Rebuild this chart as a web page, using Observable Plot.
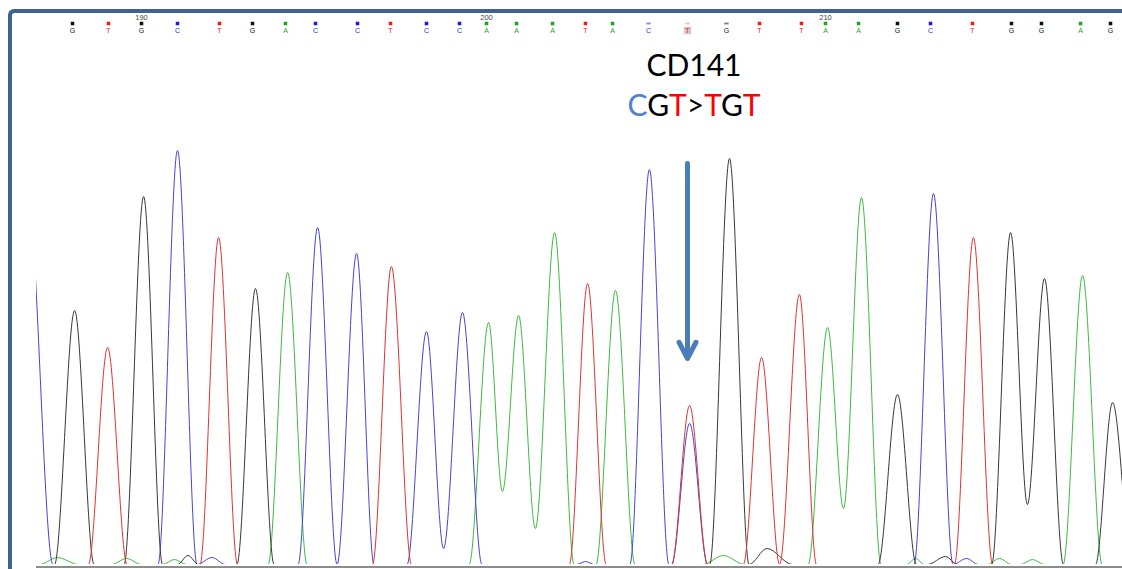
<!DOCTYPE html>
<html><head><meta charset="utf-8">
<script src="https://cdn.jsdelivr.net/npm/d3@7"></script>
<script src="https://cdn.jsdelivr.net/npm/@observablehq/plot@0.6"></script>
<style>
html,body{margin:0;padding:0;background:#fff;}
#wrap{position:relative;width:1122px;height:569px;overflow:hidden;background:#fff;}
#chart svg{display:block;}
#frame{position:absolute;left:8px;top:9px;width:1300px;height:700px;border-left:4px solid #3c6391;border-top:4px solid #3c6391;border-top-left-radius:6px;pointer-events:none;}
</style></head>
<body><div id="wrap"><div id="chart"></div><div id="frame"></div></div>
<script>
// ---- base calls (sequence shown at the top) ----
const bases = "GTGCTGACCTCCAAATACTGTTAAGCTGGAG".split("");
const basePositions = d3.range(188, 219);
const callScans = [2012,2024,2035,2047,2061,2072,2083,2093,2107,2118,2130,2141,2150,2160,2172,2183,2192,2204,2217,2230,2241,2255,2263,2274,2287,2298,2312,2325,2335,2348,2358];
const callQuality = [40,40,40,40,40,40,40,40,40,40,40,40,40,40,40,40,40,12,4,12,40,40,40,40,40,40,40,40,40,40,40];
const positionTicks = [190, 200, 210];
const mutatedPosition = 206;
const codonLabel = "CD141";
const codonChange = [["C","#4f81cf"],["G","#000"],["T","#ff0000"],[">","#000"],["T","#ff0000"],["G","#000"],["T","#ff0000"]];
const arrowSignal = [2005, 1030];

// ---- trace points [scan, signal] per dye channel ----
const traceA = [[1990,0],[2001,0],[2007,35],[2014,0],[2025,0],[2030,30],[2035,0],[2042,0],[2046,25],[2050,0],
  [2077.2,0],[2083.7,1460],[2090.2,0],
  [2144.2,0],[2150.7,1210],[2155.3,365],[2160.7,1245],[2166.3,180],[2172.7,1660],[2179.2,0],
  [2186.5,0],[2193,1370],[2199.5,0],
  [2222,0],[2229,45],[2236,0],
  [2257.2,0],[2263.7,1185],[2269,280],[2275,1835],[2281.5,0],
  [2290,0],[2293,30],[2296,0],
  [2317,0],[2321,30],[2325,0],[2328,0],[2332,25],[2336,0],
  [2342.2,0],[2348.7,1445],[2355.2,0],[2370,0]];
const traceC = [[1985,0],[1997,1870],[2005.5,0],
  [2040.5,0],[2047,2070],[2053.5,0],[2058.5,35],[2063,0],
  [2087.2,0],[2093.7,1685],[2100.2,0],[2106.7,1555],[2112.5,0],
  [2123.5,0],[2130,1165],[2135.7,80],[2142,1260],[2148.5,0],
  [2180,0],[2183,15],[2186,0],
  [2197.8,0],[2204.3,1975],[2210.8,0],
  [2211.7,0],[2217.7,705],[2223.7,0],
  [2292.5,0],[2299,1855],[2305.5,0],[2310,30],[2314,0],
  [2370,0]];
const traceG = [[1990,0],[2006,0],[2012.7,1270],[2019.2,0],
  [2029.2,0],[2035.7,1840],[2042,0],
  [2047,0],[2050.5,45],[2054,0],
  [2066.8,0],[2073,1380],[2079.2,0],
  [2224.4,0],[2231,2030],[2237.5,0],[2243.5,80],[2252,0],
  [2280.5,0],[2287,850],[2293.3,0],
  [2297,0],[2303,40],[2307,0],
  [2318.4,0],[2324.7,1660],[2330.3,300],[2336,1430],[2342.3,0],
  [2353,0],[2358.7,810],[2365.2,0],[2370,0]];
const traceT = [[1990,0],[2017.3,0],[2023.7,1085],[2030.2,0],
  [2054.5,0],[2060.7,1635],[2067,0],
  [2112,0],[2118.3,1490],[2125,0],
  [2177.6,0],[2183.7,1405],[2189.9,0],
  [2211.7,0],[2217.7,795],[2223.7,0],
  [2235.6,0],[2241.7,1035],[2247.7,0],[2254.3,1350],[2260,0],
  [2306,0],[2312.3,1635],[2318.7,0],
  [2370,0]];

const dyeBases = ["A","C","G","T"];
const dyeColors = ["#3dbb3d","#4444d6","#383838","#dc3434"];
const labelColors = ["#1fa51f","#1d1de0","#111111","#ee1c1c"];

// ---- build tables ----
const traces = {A: traceA, C: traceC, G: traceG, T: traceT};
const rows = [];
for (const b of dyeBases) for (const [scan, signal] of traces[b]) rows.push({base: b, scan, signal});
const calls = bases.map((b, i) => ({base: b, pos: basePositions[i], scan: callScans[i], q: callQuality[i]}));
const mutCall = calls.find(d => d.pos === mutatedPosition);
const ticks = positionTicks.map(p => calls.find(d => d.pos === p));
const labelColor = b => labelColors[dyeBases.indexOf(b)];
const dash = {draw(ctx, size) { const w = Math.sqrt(size) * 1.1; ctx.moveTo(-w/2, -0.9); ctx.lineTo(w/2, -0.9); ctx.lineTo(w/2, 0.9); ctx.lineTo(-w/2, 0.9); ctx.closePath(); }};

const chart = Plot.plot({
  width: 1122, height: 569,
  marginLeft: 36, marginRight: 0, marginTop: 10, marginBottom: 5,
  style: {background: "white", fontFamily: "'Liberation Sans', Arial, sans-serif", overflow: "visible"},
  x: {domain: [2000, 2362], axis: null},
  y: {domain: [0, 2770], axis: null},
  color: {domain: dyeBases, range: dyeColors},
  marks: [
    Plot.ruleY([0], {dy: 2.5, stroke: "#666", strokeWidth: 1.5}),
    Plot.line(rows, {x: "scan", y: "signal", z: "base", stroke: "base", curve: "monotone-x", strokeWidth: 1, clip: true}),
    Plot.dot(calls.filter(d => d.q >= 20), {x: "scan", frameAnchor: "top", dy: 13, symbol: "square", r: 2, fill: d => labelColor(d.base), stroke: null}),
    Plot.dot(calls.filter(d => d.q < 20), {x: "scan", frameAnchor: "top", dy: 13, symbol: dash, r: 2.2, fill: d => labelColor(d.base), fillOpacity: d => d.q < 8 ? 0.3 : 0.55, stroke: null}),
    Plot.dot([mutCall], {x: "scan", frameAnchor: "top", dy: 20, symbol: "square", r: 4.2, fill: "#dcc6c6", stroke: null}),
    Plot.text(calls, {x: "scan", text: "base", frameAnchor: "top", dy: 20, lineAnchor: "middle", fontSize: 7, fill: d => labelColor(d.base)}),
    Plot.text(ticks, {x: "scan", text: d => String(d.pos), frameAnchor: "top", dy: 7, lineAnchor: "middle", fontSize: 7.5, fill: "#444"}),
    Plot.arrow([mutCall], {x1: "scan", x2: "scan", y1: () => arrowSignal[0], y2: () => arrowSignal[1], stroke: "#4a7ebb", strokeWidth: 5, headLength: 5.5, headAngle: 55})
  ]
});

// annotation text above the mutated peak
const ax = chart.scale("x").apply(mutCall.scan) + 7;
const svg = d3.select(chart);
svg.append("text").attr("x", ax).attr("y", 76).attr("text-anchor", "middle")
  .style("font-family", "Lato, 'Open Sans', sans-serif").style("font-size", "30px").attr("fill", "#000").text(codonLabel);
const t2 = svg.append("text").attr("x", ax).attr("y", 116).attr("text-anchor", "middle")
  .style("font-family", "Lato, 'Open Sans', sans-serif").style("font-size", "30px");
for (const [ch, col] of codonChange) t2.append("tspan").attr("fill", col).text(ch);

document.getElementById("chart").appendChild(chart);
</script>
</body></html>
